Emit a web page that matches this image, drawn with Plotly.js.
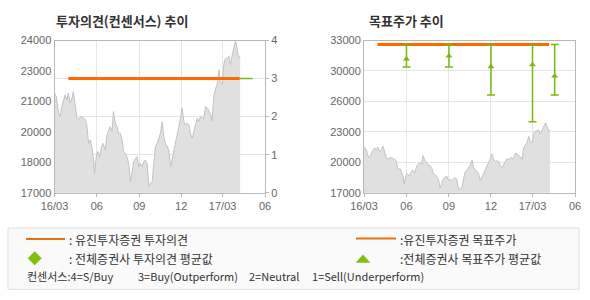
<!DOCTYPE html>
<html><head><meta charset="utf-8">
<script src="https://cdn.plot.ly/plotly-3.0.1.min.js"></script>
<style>html,body{margin:0;padding:0;background:#fff}#c{width:590px;height:300px}</style>
</head><body><div id="c"></div>
<script>
// ---- data ----
const priceDates = ['2016-03-01','2016-03-05','2016-03-10','2016-03-13','2016-03-17','2016-03-21','2016-03-24','2016-03-28','2016-03-31','2016-04-04','2016-04-08','2016-04-11','2016-04-15','2016-04-19','2016-04-22','2016-04-26','2016-04-30','2016-05-03','2016-05-07','2016-05-10','2016-05-14','2016-05-18','2016-05-21','2016-05-25','2016-05-27','2016-05-31','2016-06-03','2016-06-07','2016-06-11','2016-06-14','2016-06-19','2016-06-23','2016-06-27','2016-06-30','2016-07-04','2016-07-07','2016-07-11','2016-07-15','2016-07-18','2016-07-22','2016-07-26','2016-07-29','2016-08-02','2016-08-05','2016-08-09','2016-08-13','2016-08-16','2016-08-20','2016-08-24','2016-08-27','2016-08-31','2016-09-03','2016-09-07','2016-09-11','2016-09-14','2016-09-18','2016-09-22','2016-09-25','2016-09-29','2016-10-02','2016-10-06','2016-10-10','2016-10-13','2016-10-17','2016-10-21','2016-10-24','2016-10-28','2016-10-31','2016-11-04','2016-11-08','2016-11-11','2016-11-15','2016-11-19','2016-11-22','2016-11-26','2016-11-29','2016-12-03','2016-12-07','2016-12-10','2016-12-14','2016-12-18','2016-12-21','2016-12-25','2016-12-28','2017-01-01','2017-01-05','2017-01-08','2017-01-12','2017-01-16','2017-01-19','2017-01-23','2017-01-27','2017-01-30','2017-02-03','2017-02-06','2017-02-10','2017-02-14','2017-02-17','2017-02-21','2017-02-24','2017-02-28','2017-03-04','2017-03-07','2017-03-11','2017-03-15','2017-03-18','2017-03-22','2017-03-26','2017-03-29','2017-04-02','2017-04-05','2017-04-08'];
const price = [21580,21420,20660,20500,20960,21270,21500,21270,21580,21120,21350,21650,20960,20420,20350,20500,20500,20420,20350,20120,19270,19430,19120,18500,17890,18730,18890,18660,19120,19270,18970,19660,19890,20040,19810,20730,20200,20040,19730,19730,19430,18890,18810,18660,18350,17510,17890,18430,18580,18660,18200,18350,18200,18430,18500,18350,17280,17430,17510,18200,19120,19270,19500,19730,20270,19580,19270,19120,18970,18200,18500,18970,19270,19580,20040,20350,20890,20270,20120,20200,20120,19730,19500,19810,20120,20420,20270,20500,20420,20420,20960,20890,20730,20580,20300,21500,21810,21960,22650,22110,22000,22960,23150,23190,23270,22880,23340,23730,24000,23570,23190,23270];

const opinionDates = ['2016-03-31','2017-04-07'];
const opinion = [3,3];
const avgOpinionDates = ['2017-04-07','2017-05-05'];
const avgOpinion = [3,3];

const targetDates = ['2016-03-30','2017-04-06'];
const target = [31850,31850];
const consDates = ['2016-06-01','2016-09-01','2016-12-01','2017-03-01','2017-04-18'];
const consAvg  = [30390,30690,29630,29830,28700];
const consHigh = [31850,31850,31850,31850,31850];
const consLow  = [29600,29600,26780,24100,26780];

const xTickVals = ['2016-03-01','2016-06-01','2016-09-01','2016-12-01','2017-03-01','2017-06-01'];
const xTickText = ['16/03','06','09','12','17/03','06'];
const leftTickVals = [17000,18400,19800,21200,22600,24000];
const leftTickText = ['17000','18000','20000','21000','23000','24000'];
const opTickVals = [0,1,2,3,4];
const rightTickVals = [17000,20050,23100,26150,29200,32250];
const rightTickText = ['17000','20000','23000','26000','30000','33000'];

// ---- styles ----
const ORANGE = '#ff6a00', GREEN = '#78b80a', AXIS = '#b8b8b8', GRID = '#e6e6e6';
const tickFont = {family:'Liberation Sans, Arial, sans-serif', size:11, color:'#666'};
const KR = 'Noto Sans CJK KR, sans-serif';
const px = x => x/590, py = y => 1 - y/300;
const yDom = [py(192.7), py(40.5)];

const xBase = {type:'date', range:['2016-03-01','2017-06-01'], tickmode:'array', tickvals:xTickVals, ticktext:xTickText,
  showgrid:true, gridcolor:GRID, showline:true, linecolor:AXIS, mirror:true, ticks:'outside', ticklen:3, tickcolor:AXIS,
  tickfont:tickFont, zeroline:false, fixedrange:true};

const traces = [
  {x:priceDates, y:price, type:'scatter', mode:'lines', fill:'tozeroy', fillcolor:'#e0e0e0', line:{color:'#c2c2c2', width:1}, xaxis:'x', yaxis:'y'},
  {x:opinionDates, y:opinion, type:'scatter', mode:'lines', line:{color:ORANGE, width:3}, xaxis:'x', yaxis:'y2'},
  {x:avgOpinionDates, y:avgOpinion, type:'scatter', mode:'lines', line:{color:GREEN, width:1.5}, xaxis:'x', yaxis:'y2'},
  {x:priceDates, y:price, type:'scatter', mode:'lines', fill:'tozeroy', fillcolor:'#e0e0e0', line:{color:'#c2c2c2', width:1}, xaxis:'x2', yaxis:'y3'},
  {x:targetDates, y:target, type:'scatter', mode:'lines', line:{color:ORANGE, width:3}, xaxis:'x2', yaxis:'y3'},
  {x:consDates, y:consAvg, type:'scatter', mode:'markers', marker:{symbol:'triangle-up', size:6, color:GREEN},
   error_y:{type:'data', symmetric:false, array:consHigh.map((h,i)=>h-consAvg[i]), arrayminus:consLow.map((l,i)=>consAvg[i]-l), color:GREEN, thickness:1.5, width:4},
   xaxis:'x2', yaxis:'y3'}
];

const layout = {
  width:590, height:300, margin:{l:0,r:0,t:0,b:0}, showlegend:false,
  paper_bgcolor:'#fff', plot_bgcolor:'#fff', hovermode:false,
  xaxis: Object.assign({}, xBase, {domain:[px(54.5), px(265)], anchor:'y'}),
  yaxis: {domain:yDom, range:[17000,24000], tickmode:'array', tickvals:leftTickVals, ticktext:leftTickText,
    showgrid:false, showline:true, linecolor:AXIS, ticks:'', tickfont:tickFont, zeroline:false, anchor:'x', fixedrange:true},
  yaxis2: {domain:yDom, range:[0,4], overlaying:'y', side:'right', tickmode:'array', tickvals:opTickVals,
    showgrid:true, gridcolor:GRID, showline:true, linecolor:AXIS, ticks:'outside', ticklen:3, tickcolor:AXIS,
    tickfont:tickFont, zeroline:false, anchor:'x', fixedrange:true},
  xaxis2: Object.assign({}, xBase, {domain:[px(364), px(575)], anchor:'y3'}),
  yaxis3: {domain:yDom, range:[17000,32250], tickmode:'array', tickvals:rightTickVals, ticktext:rightTickText,
    showgrid:true, gridcolor:GRID, showline:true, linecolor:AXIS, mirror:true, ticks:'', tickfont:tickFont,
    zeroline:false, anchor:'x2', fixedrange:true},
  shapes: [
    {type:'rect', xref:'paper', yref:'paper', x0:px(8), x1:px(579), y0:py(289.3), y1:py(228), fillcolor:'#fafafa', line:{color:'#dedede', width:1}, layer:'below'},
    {type:'line', xref:'paper', yref:'paper', x0:px(26), x1:px(65), y0:py(239), y1:py(239), line:{color:'#e87012', width:2}},
    {type:'line', xref:'paper', yref:'paper', x0:px(356), x1:px(396), y0:py(238.5), y1:py(238.5), line:{color:'#e87012', width:2}},
    {type:'path', xref:'paper', yref:'paper', fillcolor:'#80c00c', line:{width:0},
     path:`M ${px(34.7)} ${py(251.3)} L ${px(41.7)} ${py(258.3)} L ${px(34.7)} ${py(265.3)} L ${px(27.7)} ${py(258.3)} Z`},
    {type:'path', xref:'paper', yref:'paper', fillcolor:'#80c00c', line:{width:0},
     path:`M ${px(363)} ${py(254.5)} L ${px(370.3)} ${py(262.7)} L ${px(355.7)} ${py(262.7)} Z`}
  ],
  annotations: [
    {text:'<b>투자의견(컨센서스) 추이</b>', xref:'paper', yref:'paper', x:px(54), y:py(20.5), xanchor:'left', yanchor:'middle', showarrow:false, font:{family:KR, size:13, color:'#333'}},
    {text:'<b>목표주가 추이</b>', xref:'paper', yref:'paper', x:px(367), y:py(20.5), xanchor:'left', yanchor:'middle', showarrow:false, font:{family:KR, size:13, color:'#333'}},
    {text:': 유진투자증권 투자의견', xref:'paper', yref:'paper', x:px(67), y:py(239.5), xanchor:'left', yanchor:'middle', showarrow:false, font:{family:KR, size:12, color:'#333'}},
    {text:': 전체증권사 투자의견 평균값', xref:'paper', yref:'paper', x:px(67), y:py(258), xanchor:'left', yanchor:'middle', showarrow:false, font:{family:KR, size:12, color:'#333'}},
    {text:':유진투자증권 목표주가', xref:'paper', yref:'paper', x:px(398), y:py(239.5), xanchor:'left', yanchor:'middle', showarrow:false, font:{family:KR, size:12, color:'#333'}},
    {text:':전체증권사 목표주가 평균값', xref:'paper', yref:'paper', x:px(398), y:py(258), xanchor:'left', yanchor:'middle', showarrow:false, font:{family:KR, size:12, color:'#333'}},
    {text:'컨센서스:4=S/Buy', xref:'paper', yref:'paper', x:px(25), y:py(275.5), xanchor:'left', yanchor:'middle', showarrow:false, font:{family:KR, size:11, color:'#333'}},
    {text:'3=Buy(Outperform)', xref:'paper', yref:'paper', x:px(136), y:py(275.5), xanchor:'left', yanchor:'middle', showarrow:false, font:{family:KR, size:11, color:'#333'}},
    {text:'2=Neutral', xref:'paper', yref:'paper', x:px(247), y:py(275.5), xanchor:'left', yanchor:'middle', showarrow:false, font:{family:KR, size:11, color:'#333'}},
    {text:'1=Sell(Underperform)', xref:'paper', yref:'paper', x:px(310), y:py(275.5), xanchor:'left', yanchor:'middle', showarrow:false, font:{family:KR, size:11, color:'#333'}}
  ]
};
Plotly.newPlot('c', traces, layout, {staticPlot:true, displayModeBar:false});
</script></body></html>
